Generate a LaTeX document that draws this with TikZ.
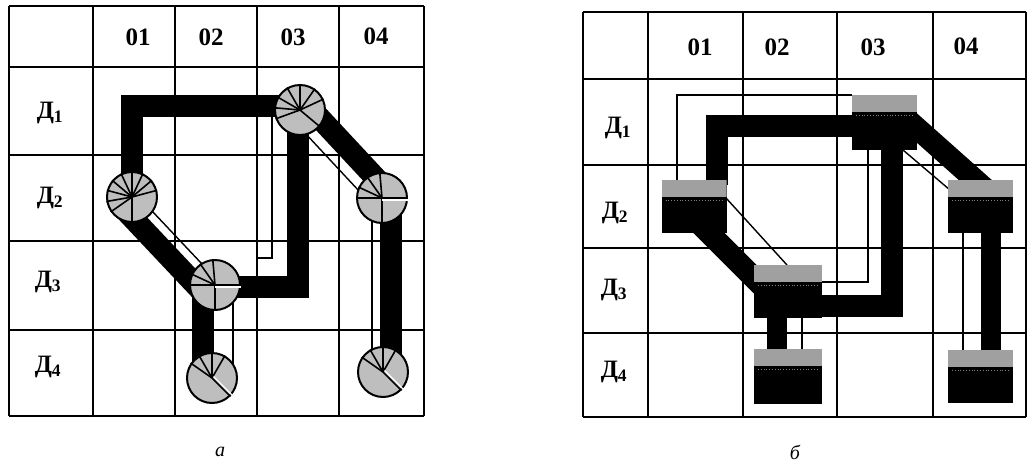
\documentclass[tikz,border=0pt]{standalone}
\usepackage{fontspec}
\setmainfont{Liberation Serif}
\usetikzlibrary{calc}
\begin{document}
\begin{tikzpicture}[x=1pt,y=-1pt,
  gridline/.style={line width=2.2pt, line cap=square},
  thinwire/.style={line width=1.4pt},
  bar/.style={line width=22pt},
  apad/.style={circle, draw=black, line width=2pt, fill=circgray, minimum size=50pt, inner sep=0pt},
  spoke/.style={line width=1.6pt},
  wspoke/.style={line width=1.4pt, white},
  bpad/.style={rectangle, fill=black, inner sep=0pt, minimum width=65pt, minimum height=53pt,
    path picture={
      \fill[padgray] (path picture bounding box.north west) rectangle ([yshift=-17pt]path picture bounding box.north east);
      \draw[gray, dotted, line width=0.8pt] ([xshift=4pt,yshift=-20pt]path picture bounding box.north west) -- ([xshift=-4pt,yshift=-20pt]path picture bounding box.north east);
    }},
  head/.style={font=\fontsize{25}{25}\selectfont\bfseries},
  rowl/.style={font=\fontsize{25}{25}\selectfont\bfseries},
  capt/.style={font=\fontsize{20}{20}\selectfont\itshape},
]
\definecolor{circgray}{HTML}{BEBEBE}
\definecolor{padgray}{HTML}{A0A0A0}
\fill[white] (0,0) rectangle (1028,469);
\useasboundingbox (0,0) rectangle (1028,469);

% ---------------- panel a : grid ----------------
\foreach \x in {9,93,175,257,339,424} \draw[gridline] (\x,6) -- (\x,416);
\foreach \y in {6,67,155,241,330,416} \draw[gridline] (9,\y) -- (424,\y);

\node[head] (ah1) at (138,37) {01};
\node[head] (ah2) at (211,37) {02};
\node[head] (ah3) at (293,37) {03};
\node[head] (ah4) at (376,36) {04};
\node[rowl] (ar1) at (50,113) {Д\textsubscript{1}};
\node[rowl] (ar2) at (50,198) {Д\textsubscript{2}};
\node[rowl] (ar3) at (48,282) {Д\textsubscript{3}};
\node[rowl] (ar4) at (48,367) {Д\textsubscript{4}};

% pad positions (panel a)
\coordinate (ca21) at (132,197);
\coordinate (ca13) at (300,110);
\coordinate (ca24) at (382,198);
\coordinate (ca32) at (215,285);
\coordinate (ca42) at (212,378);
\coordinate (ca44) at (383,372);

% thin wires (panel a)
\coordinate (tw1) at (272,258);
\coordinate (tw2) at (256,258);
\draw[thinwire] (272,112) -- (tw1) -- (tw2);
\draw[thinwire] ($(ca21)+(3.6,-3.4)$) -- ($(ca32)+(3.6,-3.4)$);
\draw[thinwire] ($(ca13)+(-8.8,8.2)$) -- ($(ca24)+(-8.8,8.2)$);
\draw[thinwire] (233,285) -- (233,370);
\draw[thinwire] (372,198) -- (372,365);

% thick bars (panel a)
\coordinate (k1) at (132,106);
\coordinate (k2) at (298,287);
\draw[bar] (ca21) -- (k1) -- (300,106);
\draw[bar] (298,110) -- (k2) -- (ca32 |- k2);
\draw[bar] ($(ca21)+(-10.2,9.6)$) -- ($(ca32)+(-10.2,9.6)$);
\draw[bar] ($(ca13)+(6.6,-6.1)$) -- ($(ca24)+(6.6,-6.1)$);
\draw[bar] (203,285) -- (203,378);
\draw[bar] (391,198) -- (391,372);

% pads (panel a)
\node[apad] (a21) at (ca21) {};
\node[apad] (a13) at (ca13) {};
\node[apad] (a24) at (ca24) {};
\node[apad] (a32) at (ca32) {};
\node[apad] (a42) at (ca42) {};
\node[apad] (a44) at (ca44) {};

\foreach \a in {15,40,65,90,115,140,165,190,215,270} \draw[spoke] (a21.center) -- (a21.\a);
\foreach \a in {25,55,90,120,150,175,200,-40} \draw[spoke] (a13.center) -- (a13.\a);
\foreach \a in {95,125,155,180,270} \draw[spoke] (a24.center) -- (a24.\a);
\draw[spoke] (a24.center) -- (a24.0);
\draw[wspoke] ([yshift=-2pt]a24.center) -- ([yshift=-2pt]a24.0);
\foreach \a in {95,125,155,180,270} \draw[spoke] (a32.center) -- (a32.\a);
\draw[spoke] (a32.center) -- (a32.0);
\draw[wspoke] ([yshift=-2pt]a32.center) -- ([yshift=-2pt]a32.0);
\foreach \a in {60,90,120,145} \draw[spoke] (a42.center) -- (a42.\a);
\draw[spoke] (a42.center) -- (a42.-45);
\draw[wspoke] ([xshift=1.5pt,yshift=1.5pt]a42.center) -- ([xshift=1.5pt,yshift=1.5pt]a42.-45);
\foreach \a in {60,90,120,145} \draw[spoke] (a44.center) -- (a44.\a);
\draw[spoke] (a44.center) -- (a44.-45);
\draw[wspoke] ([xshift=1.5pt,yshift=1.5pt]a44.center) -- ([xshift=1.5pt,yshift=1.5pt]a44.-45);

% ---------------- panel b : grid ----------------
\foreach \x in {583,648,743,837,933,1026} \draw[gridline] (\x,12) -- (\x,417);
\foreach \y in {12,79,165,248,333,417} \draw[gridline] (583,\y) -- (1026,\y);

\node[head] (bh1) at (700,47) {01};
\node[head] (bh2) at (777,47) {02};
\node[head] (bh3) at (873,47) {03};
\node[head] (bh4) at (966,46) {04};
\node[rowl] (br1) at (618,128) {Д\textsubscript{1}};
\node[rowl] (br2) at (615,213) {Д\textsubscript{2}};
\node[rowl] (br3) at (614,290) {Д\textsubscript{3}};
\node[rowl] (br4) at (614,372) {Д\textsubscript{4}};

% thin wires (panel b)
\coordinate (u1) at (677,95);
\coordinate (u2) at (868,282);
\draw[thinwire] (677,185) -- (u1) -- (852,95);
\draw[thinwire] (726,198) -- (787,265);
\draw[thinwire] (822,282) -- (u2) -- (868,150);
\draw[thinwire] (903,150) -- (950,190);
\draw[thinwire] (802,318) -- (802,349);
\draw[thinwire] (963,233) -- (963,350);

% thick bars (panel b)
\coordinate (m1) at (717,126);
\coordinate (m2) at (892,306);
\draw[bar] (717,185) -- (m1) -- (855,126);
\draw[bar] (892,145) -- (m2) -- (818,306);
\draw[bar] (690,214) -- (780,304);
\draw[bar] (900,113) -- (1000,202);
\draw[bar, line width=20pt] (777,310) -- (777,352);
\draw[bar, line width=20pt] (991,228) -- (991,353);

% pads (panel b)
\node[bpad] (b21) at (694,206.5) {};
\node[bpad, minimum height=55pt] (b13) at (884.5,122.5) {};
\node[bpad] (b24) at (980.5,206.5) {};
\node[bpad, minimum width=68pt] (b32) at (788,291.5) {};
\node[bpad, minimum width=68pt, minimum height=55pt] (b42) at (788,376.5) {};
\node[bpad] (b44) at (980.5,376.5) {};

% captions
\node[capt] (capa) at (220,452) {а};
\node[capt] (capb) at (795,452) {б};
\end{tikzpicture}
\end{document}
